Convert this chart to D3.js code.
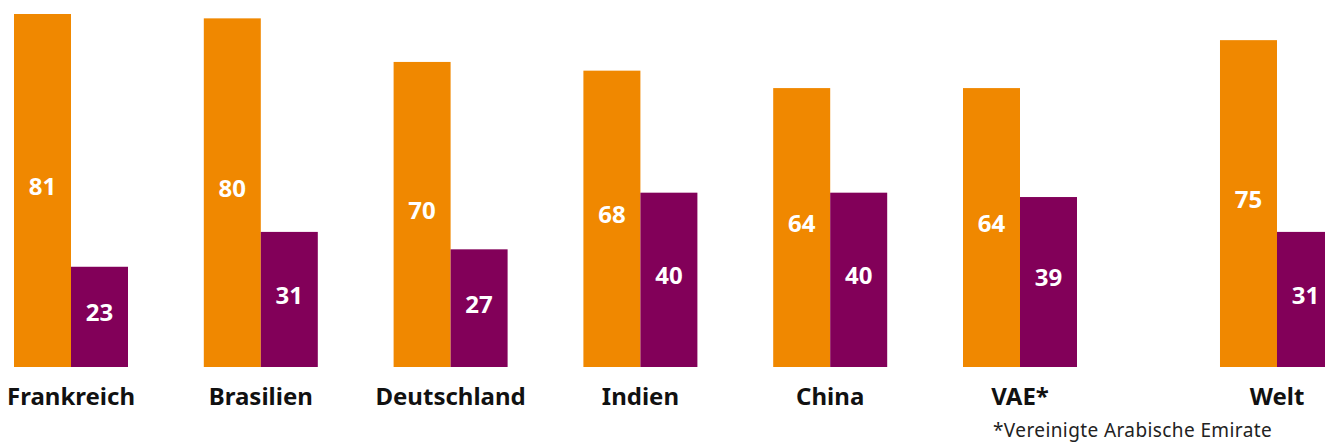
<!DOCTYPE html>
<html>
<head>
<meta charset="utf-8">
<script src="https://cdn.jsdelivr.net/npm/d3@7"></script>
<style>
  body { margin: 0; background: #fff; }
  svg { display: block; }
</style>
</head>
<body>
<svg width="1325" height="442"></svg>
<script>

var countries = ["Frankreich", "Brasilien", "Deutschland", "Indien", "China", "VAE*", "Welt"];

var seriesKeys = ["first", "second"];

var firstValues = [81, 80, 70, 68, 64, 64, 75];

var secondValues = [23, 31, 27, 40, 40, 39, 31];

var footnote = "*Vereinigte Arabische Emirate";

var colors = { first: "#F08800", second: "#820059" };

var svg = d3.select("svg");

var fontFamily = "'Noto Sans', 'Open Sans', sans-serif";

// slot index per group, the world group stands a bit apart
var slot = countries.map(function (c, i) {
    return c == "Welt" ? i + 0.354 : i;
});

var x = d3.scaleLinear()
    .domain([0, 1])
    .range([14, 203.8]);

var inner = d3.scaleBand()
    .domain(seriesKeys)
    .range([0, 114]);

var y = d3.scaleLinear()
    .domain([0, 81])
    .range([367, 14]);

var rows = countries.map(function (c, i) {
    return { country: c, x0: x(slot[i]), first: firstValues[i], second: secondValues[i] };
});

var groups = svg.selectAll(".group")
    .data(rows)
    .enter()
    .append("g")
    .attr("class", "group")
    .attr("transform", function (d) { return "translate(" + d.x0 + ",0)"; });

groups.each(function (d) {

    var g = d3.select(this);

    seriesKeys.forEach(function (k) {

        g.append("rect")
            .attr("x", inner(k))
            .attr("y", y(d[k]))
            .attr("width", inner.bandwidth())
            .attr("height", y(0) - y(d[k]))
            .attr("fill", colors[k]);

        g.append("text")
            .attr("x", inner(k) + inner.bandwidth() / 2)
            .attr("y", (y(d[k]) + y(0)) / 2 - 4)
            .attr("dy", "0.35em")
            .attr("text-anchor", "middle")
            .attr("font-family", fontFamily)
            .attr("font-weight", "bold")
            .attr("font-size", "24px")
            .attr("fill", "#fff")
            .text(d[k]);
    });

    g.append("text")
        .attr("x", inner.range()[1] / 2)
        .attr("y", 405)
        .attr("text-anchor", "middle")
        .attr("font-family", fontFamily)
        .attr("font-weight", "bold")
        .attr("font-size", "24px")
        .attr("fill", "#111")
        .text(d.country);
});

// footnote under the VAE label
var vae = rows[countries.indexOf("VAE*")];

svg.append("text")
    .attr("x", vae.x0 + 30)
    .attr("y", 437)
    .attr("font-family", fontFamily)
    .attr("font-size", "19px")
    .attr("letter-spacing", "0.4px")
    .attr("fill", "#222")
    .text(footnote);

</script>
</body>
</html>
